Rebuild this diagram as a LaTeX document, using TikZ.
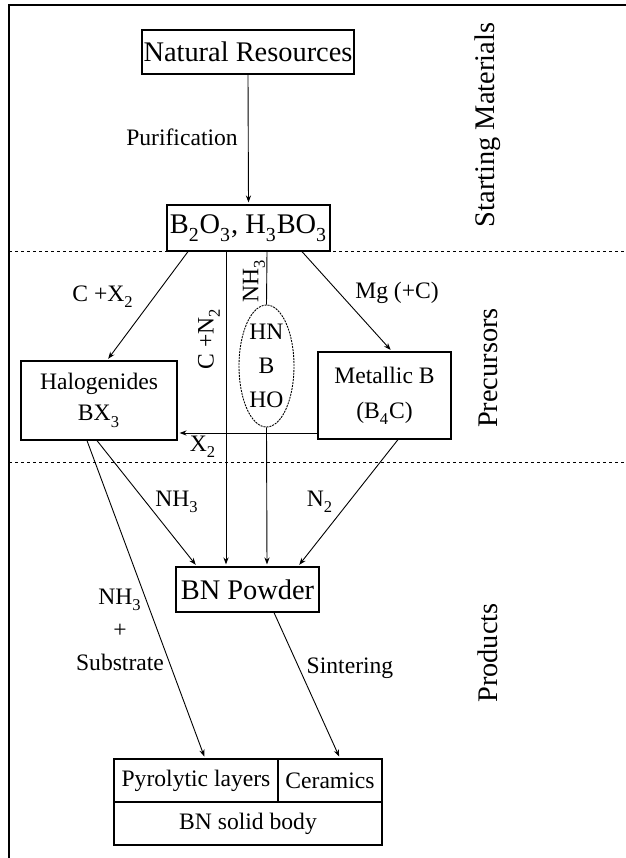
\documentclass[tikz,border=0pt]{standalone}
\usepackage{fontspec}
\setmainfont{Liberation Serif}
\usetikzlibrary{arrows.meta,shapes.geometric}
\newcommand{\sbs}[1]{\raisebox{-0.25ex}{\textsubscript{#1}}}
\begin{document}
\begin{tikzpicture}[x=0.5pt,y=-0.5pt,
 big/.style={font=\fontsize{14.2}{17}\selectfont},
 small/.style={font=\fontsize{11.8}{15.5}\selectfont},
 box/.style={draw,line width=0.6pt,inner sep=0pt,align=center},
 arr/.style={line width=0.45pt,shorten >=1pt,-{Stealth[length=3.5pt,width=2.6pt]}},
 ln/.style={line width=0.45pt},
 sep/.style={line width=0.5pt,dash pattern=on 1.5pt off 1.5pt},
 lbl/.style={small,inner sep=0pt,align=center},
 side/.style={big,rotate=90,inner sep=0pt}]
\useasboundingbox (0,0) rectangle (626,858);
% frame and section separators
\draw[line width=1pt] (9,858) -- (9,5) -- (626,5);
\draw[sep] (9,251) -- (626,251);
\draw[sep] (9,462) -- (626,462);
% nodes
\node[box,big,minimum width=106pt,minimum height=22pt] (nr) at (248,52) {Natural Resources};
\node[box,big,minimum width=81.5pt,minimum height=23pt,fill=white] (bo) at (248.5,228) {B\sbs{2}O\sbs{3}, H\sbs{3}BO\sbs{3}};
\node[box,small,minimum width=78pt,minimum height=39.5pt] (halo) at (99,400.5) {Halogenides\\BX\sbs{3}};
\node[box,small,minimum width=66.5pt,minimum height=43.5pt,font=\fontsize{11.8}{17.5}\selectfont] (metal) at (384.5,395.5) {Metallic B\\(B\sbs{4}C)};
\node[ellipse,draw,line width=0.45pt,dash pattern=on 1pt off 0.5pt,minimum width=27.5pt,minimum height=61pt,inner sep=0pt,align=center,font=\fontsize{11.8}{17}\selectfont] (ell) at (266.5,366) {HN\\B\\HO};
\node[box,big,minimum width=71.5pt,minimum height=22.5pt] (bnp) at (247.5,589.5) {BN Powder};
\node[box,small,minimum width=82pt,minimum height=21.5pt] (pyro) at (196,780.5) {Pyrolytic layers};
\node[box,small,minimum width=52pt,minimum height=21.5pt] (cer) at (330,780.5) {Ceramics};
\node[box,small,minimum width=134pt,minimum height=21.5pt] (solid) at (248,823.5) {BN solid body};
% helper x positions
\coordinate (x87) at (87,0);
\coordinate (x97) at (97,0);
\coordinate (x107) at (107,0);
\coordinate (x188) at (188,0);
\coordinate (x197) at (197,0);
\coordinate (x205) at (205,0);
\coordinate (x226) at (226,0);
\coordinate (x267) at (267,0);
\coordinate (x274) at (274,0);
\coordinate (x298) at (298,0);
\coordinate (x302) at (302,0);
\coordinate (x340) at (340,0);
\coordinate (x392) at (392,0);
\coordinate (x398) at (398,0);
\coordinate (y433) at (0,433);
% connectors
\draw[arr] (nr.south) -- (bo.north);
\draw[arr] (bo.south -| x188) -- (halo.north -| x107);
\draw[arr] (bo.south -| x302) -- (metal.north -| x392);
\draw[arr] (bo.south -| x226) -- (bnp.north -| x226);
\draw[ln] (bo.south -| x267) -- (ell.north);
\draw[arr] (ell.south) -- (bnp.north -| x267);
\draw[arr] (metal.west |- y433) -- (halo.east |- y433);
\draw[arr] (halo.south -| x97) -- (bnp.north -| x197);
\draw[arr] (metal.south -| x398) -- (bnp.north -| x298);
\draw[arr] (halo.south -| x87) -- (pyro.north -| x205);
\draw[arr] (bnp.south -| x274) -- (cer.north -| x340);
% labels
\node[lbl] (lpur) at (182,137) {Purification};
\node[lbl] (lcx) at (103,297) {C +X\sbs{2}};
\node[lbl] (lmg) at (397,293) {Mg (+C)};
\node[lbl,rotate=90] (lcn) at (209,339) {C +N\sbs{2}};
\node[lbl,rotate=90] (lnh) at (254,281) {NH\sbs{3}};
\node[lbl] (lx2) at (203,447) {X\sbs{2}};
\node[lbl] (lnh2) at (177,502) {NH\sbs{3}};
\node[lbl] (ln2) at (320,502) {N\sbs{2}};
\node[lbl,font=\fontsize{11.8}{16.5}\selectfont] (lsub) at (120,630) {NH\sbs{3}\\+\\Substrate};
\node[lbl] (lsin) at (350,668) {Sintering};
\node[side] (s1) at (488,125) {Starting Materials};
\node[side] (s2) at (488,368) {Precursors};
\node[side] (s3) at (488,653) {Products};
\end{tikzpicture}
\end{document}
